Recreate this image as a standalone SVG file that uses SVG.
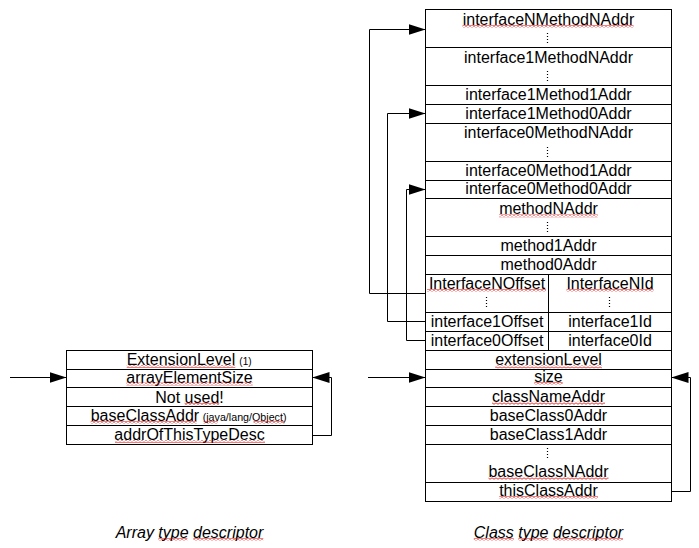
<svg xmlns="http://www.w3.org/2000/svg" width="699" height="548" viewBox="0 0 699 548">
<defs>
<style>
.t{font-family:"Liberation Sans",Arial,sans-serif;font-size:16px;fill:#000;text-anchor:middle}
.l{font-family:"Liberation Sans",Arial,sans-serif;font-size:16px;fill:#000}
.cap{font-family:"Liberation Sans",Arial,sans-serif;font-size:16px;font-style:italic;fill:#000}
.box{fill:#fff;stroke:#000;stroke-width:1}
.ln{stroke:#000;stroke-width:1;fill:none}
.dots{stroke:#000;stroke-width:1.2;stroke-dasharray:1 2;fill:none}
.conn{stroke:#000;stroke-width:1;fill:none;marker-end:url(#ah)}
.sq{fill:url(#wave)}
</style>
<pattern id="wave" width="4" height="3" patternUnits="userSpaceOnUse">
<path d="M0,0.5 L2,2.5 L4,0.5" stroke="#e00000" stroke-width="1" fill="none"/>
</pattern>
<marker id="ah" markerUnits="userSpaceOnUse" markerWidth="17" markerHeight="11" refX="17" refY="5.5" orient="auto">
<path d="M0,0 L17,5.5 L0,11 z" fill="#000"/>
</marker>
</defs>
<rect width="699" height="548" fill="#fff"/>

<g id="array-type-descriptor">
<rect class="box" x="66.5" y="350.5" width="246" height="94"/>
<path class="ln" d="M66.5,369.5H312.5M66.5,387.5H312.5M66.5,406.5H312.5M66.5,425.5H312.5"/>
<text class="l" x="126.7" y="365">ExtensionLevel<tspan x="239.3" font-size="10">(1)</tspan></text>
<rect class="sq" x="126.7" y="365" width="108.6" height="3"/>
<text class="t" x="189.5" y="382.5">arrayElementSize</text>
<rect class="sq" x="126.4" y="382.5" width="126.3" height="3"/>
<text class="t" x="189.5" y="402.5">Not used!</text>
<rect class="sq" x="184.6" y="402.5" width="34.7" height="3"/>
<text class="l" x="90.7" y="421">baseClassAddr<tspan x="202.7" font-size="10.7">(java/lang/Object)</tspan></text>
<rect class="sq" x="90.7" y="421" width="106" height="3"/>
<rect class="sq" x="203.5" y="421" width="14" height="3"/>
<rect class="sq" x="253.5" y="421" width="31" height="3"/>
<text class="t" x="189.5" y="440">addrOfThisTypeDesc</text>
<rect class="sq" x="115" y="440" width="150" height="3"/>
</g>

<g id="class-type-descriptor">
<rect class="box" x="425.5" y="9.5" width="246" height="492"/>
<path class="ln" d="M425.5,47.5H671.5M425.5,85.5H671.5M425.5,104.5H671.5M425.5,123.5H671.5M425.5,161.5H671.5M425.5,180.5H671.5M425.5,198.5H671.5M425.5,236.5H671.5M425.5,255.5H671.5M425.5,274.5H671.5M425.5,312.5H671.5M425.5,331.5H671.5M425.5,350.5H671.5M425.5,369.5H671.5M425.5,387.5H671.5M425.5,406.5H671.5M425.5,425.5H671.5M425.5,444.5H671.5M425.5,482.5H671.5M548.5,274.5V350.5"/>
<text class="t" x="548.5" y="25">interfaceNMethodNAddr</text>
<rect class="sq" x="462.5" y="25" width="171" height="3"/>
<path class="dots" d="M547.5,33V43"/>
<text class="t" x="548.5" y="63.3">interface1MethodNAddr</text>
<path class="dots" d="M547.5,71V81"/>
<text class="t" x="548.5" y="100">interface1Method1Addr</text>
<text class="t" x="548.5" y="119">interface1Method0Addr</text>
<text class="t" x="548.5" y="138">interface0MethodNAddr</text>
<path class="dots" d="M547.5,147V157"/>
<text class="t" x="548.5" y="176">interface0Method1Addr</text>
<text class="t" x="548.5" y="194">interface0Method0Addr</text>
<text class="t" x="548.5" y="214.3">methodNAddr</text>
<rect class="sq" x="499" y="214.3" width="98.7" height="3"/>
<path class="dots" d="M547.5,222V232"/>
<text class="t" x="548.5" y="251">method1Addr</text>
<text class="t" x="548.5" y="270">method0Addr</text>
<text class="t" x="487" y="289">InterfaceNOffset</text>
<rect class="sq" x="427" y="289" width="119" height="3"/>
<text class="t" x="610" y="289">InterfaceNId</text>
<rect class="sq" x="566.5" y="289" width="87" height="3"/>
<path class="dots" d="M486.5,297V307M609.5,297V307"/>
<text class="t" x="487" y="326.7">interface1Offset</text>
<text class="t" x="610" y="326.7">interface1Id</text>
<text class="t" x="487" y="345.7">interface0Offset</text>
<text class="t" x="610" y="345.7">interface0Id</text>
<text class="t" x="548.5" y="365.3">extensionLevel</text>
<rect class="sq" x="495.2" y="365.3" width="106.7" height="3"/>
<text class="t" x="548.5" y="382">size</text>
<rect class="sq" x="534.3" y="382" width="28.4" height="3"/>
<text class="t" x="548.5" y="401.7">classNameAddr</text>
<rect class="sq" x="492" y="401.7" width="113" height="3"/>
<text class="t" x="548.5" y="421">baseClass0Addr</text>
<text class="t" x="548.5" y="440">baseClass1Addr</text>
<path class="dots" d="M547.5,448V458"/>
<text class="t" x="548.5" y="476.7">baseClassNAddr</text>
<rect class="sq" x="488.5" y="476.7" width="120" height="3"/>
<text class="t" x="548.5" y="496">thisClassAddr</text>
<rect class="sq" x="499.2" y="496" width="98.7" height="3"/>
</g>

<g id="connectors">
<path class="conn" d="M10,377.5H66.5"/>
<path class="conn" d="M312.5,435.5H331.5V377.5H312.5"/>
<path class="conn" d="M368,377.5H425.5"/>
<path class="conn" d="M671.5,491.5H690.5V377.5H671.5"/>
<path class="conn" d="M425.5,293.5H369.5V29.5H425.5"/>
<path class="conn" d="M425.5,321.5H387.5V113.5H425.5"/>
<path class="conn" d="M425.5,340.5H406.5V189.5H425.5"/>
</g>

<g id="captions">
<text class="cap" x="115.7" y="538">Array type descriptor</text>
<rect class="sq" x="158.4" y="538" width="29" height="3"/>
<rect class="sq" x="193.3" y="538" width="70" height="3"/>
<text class="cap" x="548.5" y="538" text-anchor="middle">Class type descriptor</text>
<rect class="sq" x="473.8" y="538" width="40" height="3"/>
<rect class="sq" x="518.3" y="538" width="30" height="3"/>
<rect class="sq" x="553" y="538" width="70" height="3"/>
</g>
</svg>
